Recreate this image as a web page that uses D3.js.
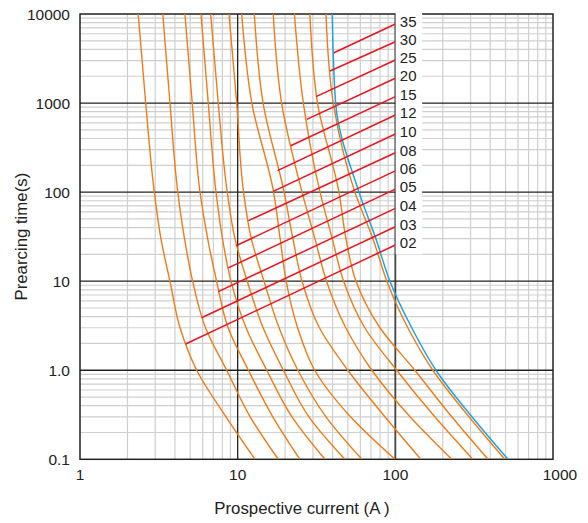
<!DOCTYPE html>
<html>
<head>
<meta charset="utf-8">
<script src="https://cdn.jsdelivr.net/npm/d3@7"></script>
<style>
  html, body { margin: 0; padding: 0; background: #fff; }
  svg { display: block; font-family: "Liberation Sans", Arial, sans-serif; }
</style>
</head>
<body>
<svg id="chart" width="588" height="523"></svg>
<script>
// ---------------- data ----------------
const xTicks = [1, 10, 100, 1000];
const xTickLabels = ["1", "10", "100", "1000"];
const yTicks = [0.1, 1, 10, 100, 1000, 10000];
const yTickLabels = ["0.1", "1.0", "10", "100", "1000", "10000"];

const ratings = ["02", "03", "04", "05", "06", "08", "10", "12", "15", "20", "25", "30", "35"];

// prearcing time levels (s) at which each curve's current was read
const times = [10000, 1000, 100, 30, 10, 3, 1, 0.3, 0.1];

// prospective current (A) of each curve at the time levels above
const c02 = [2.34, 2.61, 2.96, 3.26, 3.72, 4.31, 5.5, 8.43, 12.9];
const c03 = [3.35, 3.72, 4.17, 4.6, 5.18, 6.25, 8.52, 12.0, 18.1];
const c04 = [4.63, 5.15, 5.77, 6.45, 7.35, 8.7, 11.7, 16.7, 24.8];
const c05 = [5.85, 6.51, 7.29, 8.01, 9.07, 11.3, 15.3, 22.1, 35.8];
const c06 = [6.74, 7.53, 8.59, 9.61, 11.5, 14.5, 19.5, 28.3, 47.9];
const c08 = [8.81, 9.86, 10.9, 12.2, 14.7, 18.3, 24.1, 36.3, 61.4];
const c10 = [10.6, 12.3, 16.9, 18.6, 20.3, 24.0, 30.8, 52.0, 99.4];
const c12 = [12.75, 14.5, 19.7, 22.4, 25.6, 33.0, 50.0, 85.9, 145];
const c15 = [16.8, 19.0, 25.6, 30.9, 36.6, 48.5, 71.0, 124, 228];
const c20 = [22.9, 26.1, 33.3, 39.8, 47.0, 64.0, 102, 178, 310];
const c25 = [28.7, 32.1, 43.9, 48.6, 56.3, 79.9, 133, 228, 387];
const c30 = [36.3, 40.4, 55.4, 72.1, 88.4, 120, 173, 293, 495];
const c35 = [39.8, 41.8, 58.8, 75.3, 92.4, 127, 181, 306, 518];

// red leader lines: start point on each curve, end at 100 A
const leaderStartI = [4.68, 5.91, 7.53, 8.72, 9.76, 11.7, 16.8, 17.9, 21.7, 27.4, 31.4, 38.5, 40.8];
const leaderStartT = [1.97, 3.89, 7.62, 14.1, 25.0, 47.8, 102, 174, 332, 657, 1179, 2291, 3677];
const leaderEndI = 100;
const leaderEndT = [25.5, 40.9, 65.8, 108, 173, 277, 449, 734, 1179, 1897, 3044, 4887, 7725];

const labelBoxBottomT = 20;

// ---------------- layout ----------------
const svg = d3.select("#chart");
const L = 80, R = 553, T = 14, B = 459.3;

const x = d3.scaleLog().domain([1, 1000]).range([L, R]);
const y = d3.scaleLog().domain([0.1, 10000]).range([B, T]);

const ORANGE = "#f07b16";
const RED = "#e8141e";
const BLUE = "#1ba4e4";

// minor grid
const minorX = [];
for (let d = 1; d < 1000; d *= 10) for (let k = 2; k <= 9; k++) minorX.push(d * k);
const minorY = [];
for (let d = 0.1; d < 10000; d *= 10) for (let k = 2; k <= 9; k++) minorY.push(d * k);

const grid = svg.append("g");
grid.selectAll(".mx").data(minorX).join("line")
  .attr("x1", d => x(d)).attr("x2", d => x(d)).attr("y1", T).attr("y2", B)
  .attr("stroke", "#cfcfcf").attr("stroke-width", 1.2);
grid.selectAll(".my").data(minorY).join("line")
  .attr("x1", L).attr("x2", R).attr("y1", d => y(d)).attr("y2", d => y(d))
  .attr("stroke", "#cfcfcf").attr("stroke-width", 1.2);

// major grid
grid.selectAll(".Mx").data([10, 100]).join("line")
  .attr("x1", d => x(d)).attr("x2", d => x(d)).attr("y1", T).attr("y2", B)
  .attr("stroke", d => d === 100 ? "#444" : "#222").attr("stroke-width", d => d === 100 ? 1.8 : 1.3);
grid.selectAll(".My").data([1, 10, 100, 1000]).join("line")
  .attr("x1", L).attr("x2", R).attr("y1", d => y(d)).attr("y2", d => y(d))
  .attr("stroke", "#222").attr("stroke-width", 1.3);

// frame
svg.append("rect").attr("x", L).attr("y", T).attr("width", R - L).attr("height", B - T)
  .attr("fill", "none").attr("stroke", "#222").attr("stroke-width", 1.5);

// clip
svg.append("clipPath").attr("id", "clip").append("rect")
  .attr("x", L).attr("y", T).attr("width", R - L).attr("height", B - T);

const curves = [c02, c03, c04, c05, c06, c08, c10, c12, c15, c20, c25, c30, c35];
const line = d3.line()
  .x(d => x(d[0])).y(d => y(d[1]))
  .curve(d3.curveMonotoneY);

const plot = svg.append("g").attr("clip-path", "url(#clip)");
plot.selectAll(".curve").data(curves.slice(0, 12)).join("path")
  .attr("d", c => line(c.map((v, i) => [v, times[i]])))
  .attr("fill", "none").attr("stroke", ORANGE).attr("stroke-width", 1.4);
plot.append("path")
  .attr("d", line(c35.map((v, i) => [v, times[i]])))
  .attr("fill", "none").attr("stroke", BLUE).attr("stroke-width", 1.5);

// red leaders
svg.selectAll(".leader").data(ratings).join("line")
  .attr("x1", (d, i) => x(leaderStartI[i])).attr("y1", (d, i) => y(leaderStartT[i]))
  .attr("x2", x(leaderEndI)).attr("y2", (d, i) => y(leaderEndT[i]))
  .attr("stroke", RED).attr("stroke-width", 1.5);

// white label box
svg.append("rect")
  .attr("x", x(leaderEndI) + 0.3).attr("y", T - 3)
  .attr("width", 26.5).attr("height", y(labelBoxBottomT) - T + 3)
  .attr("fill", "#fff");

svg.selectAll(".lab").data(ratings).join("text")
  .attr("x", x(leaderEndI) + 4.5).attr("y", (d, i) => y(leaderEndT[i]) - 2.5)
  .attr("dominant-baseline", "central")
  .attr("font-size", 15).attr("fill", "#222")
  .text(d => d);

// tick labels
svg.selectAll(".yt").data(yTicks).join("text")
  .attr("x", L - 10).attr("y", d => y(d))
  .attr("dominant-baseline", "central").attr("text-anchor", "end")
  .attr("font-size", 15.5).attr("fill", "#222")
  .text((d, i) => yTickLabels[i]);
svg.selectAll(".xt").data(xTicks).join("text")
  .attr("x", (d, i) => x(d) + (i === xTicks.length - 1 ? 7 : 0)).attr("y", B + 21)
  .attr("text-anchor", "middle")
  .attr("font-size", 15.5).attr("fill", "#222")
  .text((d, i) => xTickLabels[i]);

// axis titles
svg.append("text").attr("x", 302).attr("y", 514)
  .attr("text-anchor", "middle").attr("font-size", 16.8).attr("fill", "#222")
  .text("Prospective current (A )");
svg.append("text")
  .attr("transform", `translate(27, ${(T + B) / 2}) rotate(-90)`)
  .attr("text-anchor", "middle").attr("font-size", 16.8).attr("fill", "#222")
  .text("Prearcing time(s)");
</script>
</body>
</html>
